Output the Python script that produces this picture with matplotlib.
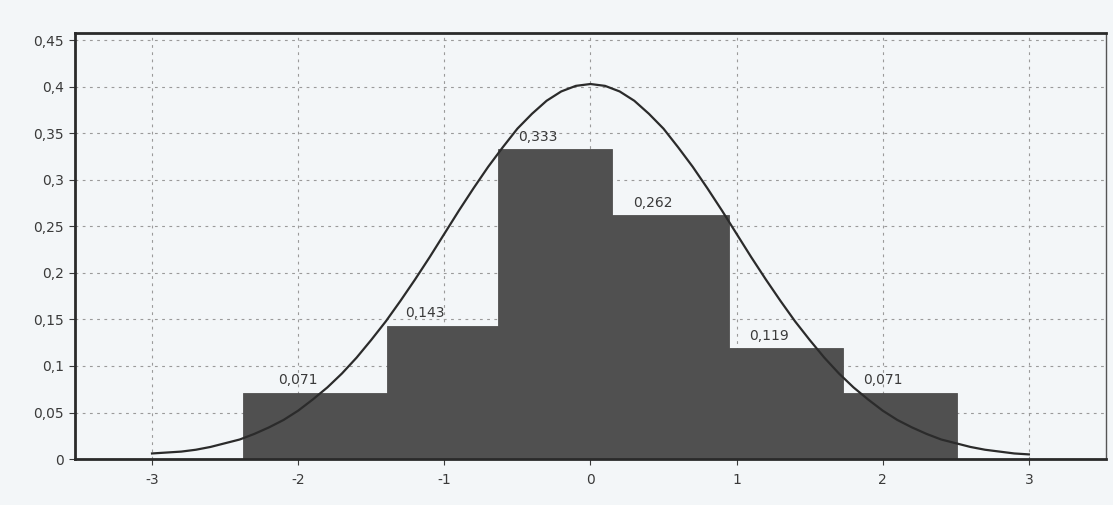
import matplotlib
matplotlib.use("Agg")
import matplotlib.pyplot as plt
from matplotlib.ticker import FuncFormatter

plt.rcParams["axes.unicode_minus"] = False

# histogram of relative frequencies
bin_edges = [-2.38, -1.39, -0.63, 0.15, 0.95, 1.73, 2.51]
rel_freq = [0.071, 0.143, 0.333, 0.262, 0.119, 0.071]
freq_labels = ["0,071", "0,143", "0,333", "0,262", "0,119", "0,071"]

# theoretical density curve, read at steps of 0.1
curve_x = [round(-3.0 + 0.1 * i, 1) for i in range(61)]
curve_y = [0.006, 0.007, 0.008, 0.010, 0.013, 0.017, 0.021, 0.027, 0.034, 0.042,
           0.052, 0.064, 0.077, 0.092, 0.109, 0.128, 0.148, 0.170, 0.193, 0.217,
           0.242, 0.267, 0.291, 0.314, 0.335, 0.355, 0.371, 0.385, 0.395, 0.401,
           0.403,
           0.401, 0.395, 0.385, 0.371, 0.355, 0.335, 0.314, 0.291, 0.267, 0.242,
           0.217, 0.193, 0.170, 0.148, 0.128, 0.109, 0.092, 0.077, 0.064, 0.052,
           0.042, 0.034, 0.027, 0.021, 0.017, 0.013, 0.010, 0.008, 0.006, 0.005]

x_ticks = [-3, -2, -1, 0, 1, 2, 3]
y_ticks = [0, 0.05, 0.1, 0.15, 0.2, 0.25, 0.3, 0.35, 0.4, 0.45]

bg = "#f3f6f8"
fig = plt.figure(figsize=(11.13, 5.05), dpi=100, facecolor=bg)
ax = fig.add_axes([0.067, 0.091, 0.927, 0.844], facecolor=bg)

widths = [b - a for a, b in zip(bin_edges[:-1], bin_edges[1:])]
ax.bar(bin_edges[:-1], rel_freq, width=widths, align="edge",
       color="#505050", edgecolor="#505050", linewidth=0.6, zorder=2)

ax.plot(curve_x, curve_y, color="#2b2b2b", linewidth=1.6, zorder=3)

for left, w, h, txt in zip(bin_edges[:-1], widths, rel_freq, freq_labels):
    ax.annotate(txt, (left + w / 2 - 0.12, h), xytext=(0, 4),
                textcoords="offset points", ha="center", va="bottom",
                fontsize=10, color="#3a3a3a", zorder=4)

ax.set_xlim(-3.53, 3.53)
ax.set_ylim(0, 0.458)
ax.set_xticks(x_ticks)
ax.set_yticks(y_ticks)
ax.yaxis.set_major_formatter(FuncFormatter(lambda v, p: f"{v:g}".replace(".", ",")))
ax.tick_params(labelsize=10, colors="#3a3a3a", length=4, width=0.8)
ax.tick_params(axis="x", pad=6)

ax.grid(True, color="#9a9a9a", linestyle=(0, (2.5, 4)), linewidth=0.8, zorder=0)
ax.set_axisbelow(True)

for side in ["left", "bottom", "top"]:
    ax.spines[side].set_linewidth(2.0)
    ax.spines[side].set_color("#2a2a2a")
ax.spines["right"].set_linewidth(1.0)
ax.spines["right"].set_color("#555555")

fig.savefig("out.png", dpi=100, facecolor=bg)
